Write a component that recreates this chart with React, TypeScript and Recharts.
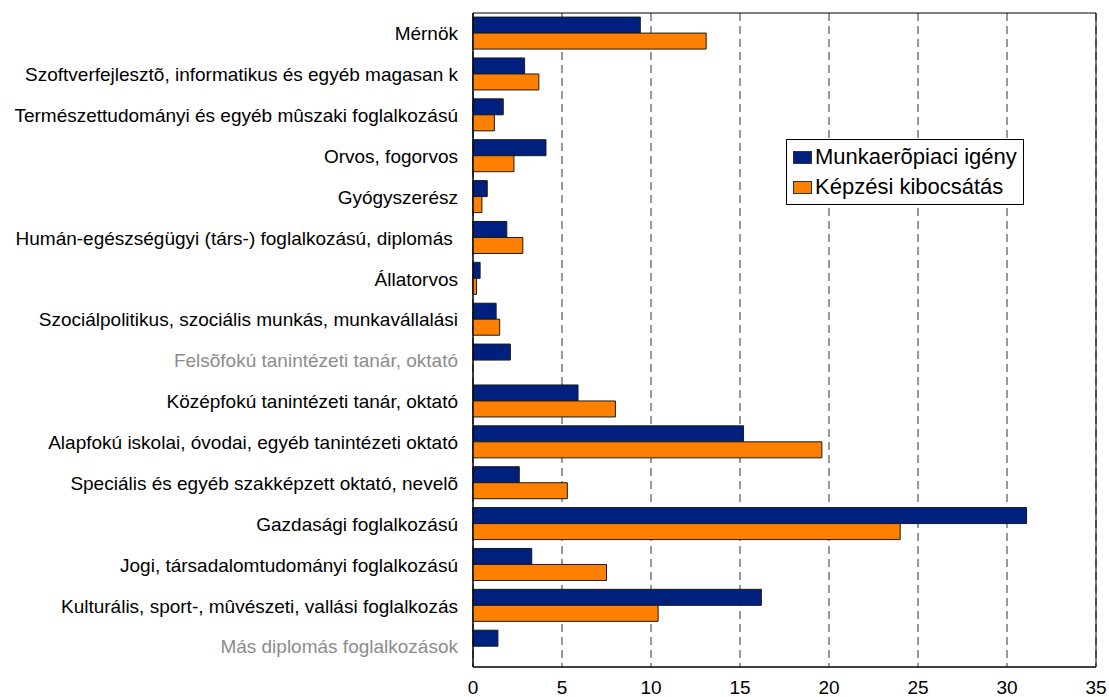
import { BarChart, Bar, XAxis, YAxis, CartesianGrid, Legend, ReferenceArea } from "recharts"

const categories = [
  "Mérnök",
  "Szoftverfejlesztõ, informatikus és egyéb magasan k",
  "Természettudományi és egyéb mûszaki foglalkozású",
  "Orvos, fogorvos",
  "Gyógyszerész",
  "Humán-egészségügyi (társ-) foglalkozású, diplomás ",
  "Állatorvos",
  "Szociálpolitikus, szociális munkás, munkavállalási",
  "Felsõfokú tanintézeti tanár, oktató",
  "Középfokú tanintézeti tanár, oktató",
  "Alapfokú iskolai, óvodai, egyéb tanintézeti oktató",
  "Speciális és egyéb szakképzett oktató, nevelõ",
  "Gazdasági foglalkozású",
  "Jogi, társadalomtudományi foglalkozású",
  "Kulturális, sport-, mûvészeti, vallási foglalkozás",
  "Más diplomás foglalkozások",
]

const igeny = [9.4, 2.9, 1.7, 4.1, 0.8, 1.9, 0.4, 1.3, 2.1, 5.9, 15.2, 2.6, 31.1, 3.3, 16.2, 1.4]
const kibocsatas = [13.1, 3.7, 1.2, 2.3, 0.5, 2.8, 0.2, 1.5, null, 8.0, 19.6, 5.3, 24.0, 7.5, 10.4, null]

const xTicks = [0, 5, 10, 15, 20, 25, 30, 35]
const mutedCategories = ["Felsõfokú tanintézeti tanár, oktató", "Más diplomás foglalkozások"]

const seriesNames = ["Munkaerõpiaci igény", "Képzési kibocsátás"]

const data = categories.map((name, i) => ({ name, igeny: igeny[i], kibocsatas: kibocsatas[i] }))

const font = "'Liberation Sans', Arial, sans-serif"

function CategoryTick({ x, y, payload }: any) {
  const muted = mutedCategories.includes(payload.value)
  return (
    <text
      x={x}
      y={y}
      dy="0.36em"
      textAnchor="end"
      fill={muted ? "#8c8c8c" : "#000"}
      fontSize={19}
      fontFamily={font}
      style={{ whiteSpace: "pre" }}
    >
      {payload.value}
    </text>
  )
}

function LegendBox({ payload }: any) {
  const items = [...(payload || [])].sort(
    (a: any, b: any) => seriesNames.indexOf(a.value) - seriesNames.indexOf(b.value)
  )
  return (
    <div
      style={{
        border: "1px solid #000",
        background: "#fff",
        boxSizing: "border-box",
        width: 238,
        height: 66,
        padding: "2px 0 0 6px",
        fontFamily: font,
        fontSize: 22,
        lineHeight: "30px",
        textAlign: "left",
      }}
    >
      {items.map((p: any) => (
        <div key={p.value} style={{ display: "flex", alignItems: "center" }}>
          <span
            style={{
              display: "inline-block",
              width: 19,
              height: 13,
              background: p.color,
              border: "1px solid #333",
              boxSizing: "border-box",
              marginRight: 3,
            }}
          />
          <span>{p.value}</span>
        </div>
      ))}
    </div>
  )
}

export default function App() {
  return (
    <div style={{ position: "absolute", left: 0, top: 0, background: "#fff" }}>
      <BarChart
        width={1109}
        height={697}
        data={data}
        layout="vertical"
        margin={{ top: 13, right: 13, bottom: 0, left: 0 }}
        barCategoryGap="10%"
        barGap={0}
      >
        <CartesianGrid horizontal={false} stroke="#333" strokeDasharray="8 5" />
        <XAxis
          type="number"
          domain={[0, 35]}
          ticks={xTicks}
          interval={0}
          height={30}
          axisLine={{ stroke: "#000" }}
          tickLine={false}
          tickSize={0}
          tickMargin={14}
          tick={{ fill: "#000", fontSize: 19, fontFamily: font }}
        />
        <YAxis
          type="category"
          dataKey="name"
          width={473}
          axisLine={{ stroke: "#000" }}
          tickLine={false}
          tickSize={0}
          tickMargin={15}
          interval={0}
          tick={<CategoryTick />}
        />
        <ReferenceArea x1={0} x2={35} fill="none" stroke="#000" strokeWidth={1} />
        <Legend
          layout="vertical"
          verticalAlign="middle"
          align="center"
          wrapperStyle={{ left: 786, top: 139, width: 238, height: 66 }}
          content={<LegendBox />}
        />
        <Bar
          dataKey="igeny"
          name={seriesNames[0]}
          fill="#002080"
          stroke="#1a1a1a"
          strokeWidth={1}
          isAnimationActive={false}
        />
        <Bar
          dataKey="kibocsatas"
          name={seriesNames[1]}
          fill="#ff8000"
          stroke="#1a1a1a"
          strokeWidth={1}
          isAnimationActive={false}
        />
      </BarChart>
    </div>
  )
}
